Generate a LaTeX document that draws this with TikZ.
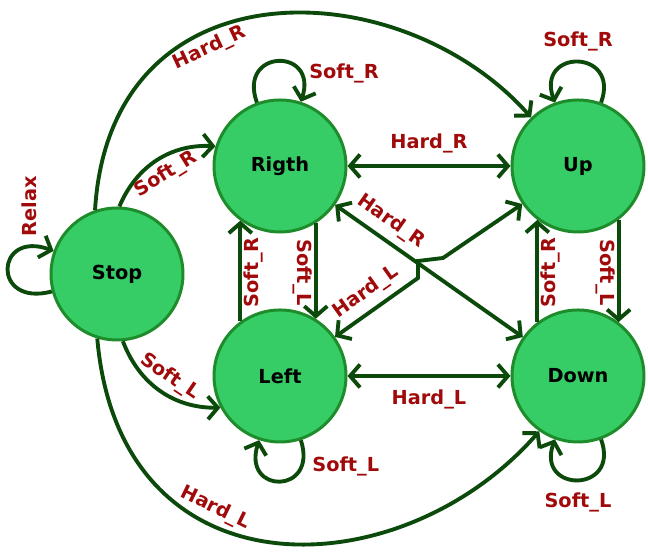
\documentclass[tikz,border=0pt]{standalone}
\usepackage{fontspec}
\setmainfont{DejaVu Sans}
\usepackage{xcolor}
\usepackage{tikz}
\usetikzlibrary{positioning,arrows.meta}
\definecolor{fsmFill}{HTML}{36CC66}
\definecolor{fsmRim}{HTML}{1E8C2A}
\definecolor{fsmEdge}{HTML}{0C4A0C}
\definecolor{fsmRed}{HTML}{A00A0A}
\tikzset{
  state/.style={circle,draw=fsmRim,line width=1.7pt,fill=fsmFill,minimum size=2.64cm,
    inner sep=0pt,font=\bfseries\fontsize{11}{13}\selectfont},
  trans/.style={draw=fsmEdge,line width=2.2pt,line join=miter,
    >={Straight Barb[length=2mm,width=4.6mm]}},
  lbl/.style={text=fsmRed,font=\bfseries\fontsize{11}{13}\selectfont,inner sep=1pt},
  selfloop/.style={trans,->,loop,min distance=1.15cm}
}

\begin{document}
\begin{tikzpicture}
      \useasboundingbox (0,0) rectangle (12.96,11.04);
      \node[state] (stop) at (2.34,5.56) {Stop};
      \node[state] (rigth) at (5.6,7.72) {Rigth};
      \node[state, right=3.26cm of rigth] (up) {Up};
      \node[state, below=1.5cm of rigth] (left) {Left};
      \node[state, below=1.5cm of up] (down) {Down};
      \coordinate (hopA) at (8.36,5.48);
      \coordinate (hopB) at (8.36,5.82);
      \coordinate (hopC) at (8.86,5.88);

      % self loops
      \path (stop) edge[selfloop, out=195, in=160, min distance=1.25cm] (stop);
      \node[lbl, rotate=90] (relaxlbl) at (0.58,6.92) {Relax};
      \path (rigth) edge[selfloop, out=110, in=72]
        node[lbl, pos=0.78, right=3pt] (rigthlbl) {Soft\_R} (rigth);
      \path (up) edge[selfloop, out=70, in=110]
        node[lbl, above=4pt] (uplbl) {Soft\_R} (up);
      \path (left) edge[selfloop, out=-72, in=-108]
        node[lbl, pos=0.2, right=4pt] (leftlbl) {Soft\_L} (left);
      \path (down) edge[selfloop, out=-70, in=-110]
        node[lbl, below=5pt] (downlbl) {Soft\_L} (down);

      % from stop
      \draw[trans,->] (stop.88) to[bend left=35]
        node[lbl, sloped, below=2pt] (srlbl) {Soft\_R} (rigth.163);
      \draw[trans,->] (stop.275) to[bend right=35]
        node[lbl, sloped, above=2pt] (sllbl) {Soft\_L} (left.208);
      \draw[trans,->] (stop.109) .. controls (2.2,11.84) and (8.0,11.64) ..
        node[lbl, pos=0.37, sloped, below=2pt] (hrlbl) {Hard\_R} (up.134);
      \draw[trans,->] (stop.253) .. controls (2.4,-0.96) and (8.0,-0.76) ..
        node[lbl, pos=0.37, sloped, above=2pt] (hllbl) {Hard\_L} (down.235);

      % between the four
      \draw[trans,<->] (rigth) -- node[lbl, above=5pt] (rulbl) {Hard\_R} (up);
      \draw[trans,<->] (left) -- node[lbl, below=6pt] (ldlbl) {Hard\_L} (down);
      \draw[trans,->] (left.126) -- node[lbl, rotate=90, below=1pt] (lrlbl) {Soft\_R} (rigth.234);
      \draw[trans,->] (rigth.302) -- node[lbl, rotate=-90, below=1pt] (rllbl) {Soft\_L} (left.58);
      \draw[trans,->] (down.127) -- node[lbl, rotate=90, below=1pt] (dulbl) {Soft\_R} (up.233);
      \draw[trans,->] (up.307) -- node[lbl, rotate=-90, below=1pt] (udlbl) {Soft\_L} (down.53);
      \draw[trans,<->] (rigth) -- node[lbl, sloped, pos=0.24, above=3pt] (rdlbl) {Hard\_R} (down);
      \draw[trans,<->] (left) -- node[lbl, sloped, pos=0.5, above=3pt] (lulbl) {Hard\_L} (hopA)
        -- (hopB) -- (hopC) -- (up);
    \end{tikzpicture}
\end{document}
